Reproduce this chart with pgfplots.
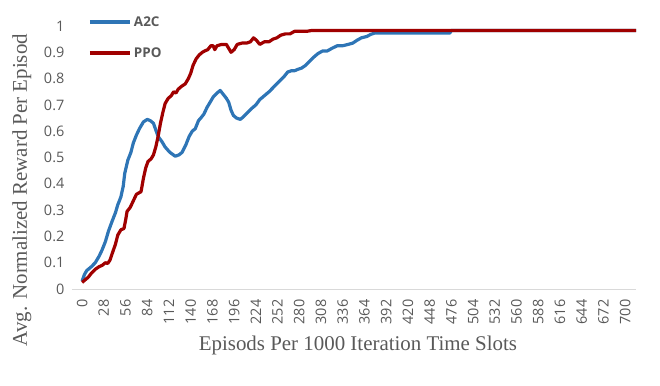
\documentclass[border=0pt]{standalone}
\usepackage{fontspec}
\setmainfont{Open Sans}
\newfontfamily\serif{Liberation Serif}
\usepackage{pgfplots}
\pgfplotsset{compat=1.18}
\definecolor{a2cblue}{HTML}{2E75B6}
\definecolor{ppored}{HTML}{A00000}
\definecolor{txtgray}{HTML}{595959}
\definecolor{axgray}{HTML}{D9D9D9}

\begin{document}
\begin{tikzpicture}
\begin{axis}[
  scale only axis,
  width=564bp, height=263bp,
  xmin=-13, xmax=714, ymin=0, ymax=1,
  axis x line=bottom, axis y line=left,
  x axis line style={draw=axgray, line width=0.8bp, -},
  y axis line style={draw=none},
  tick style={draw=none},
  xtick={0,28,...,700},
  ytick={0,0.1,...,1.01},
  /pgf/number format/assume math mode=true,
  yticklabel style={/pgf/number format/fixed, /pgf/number format/precision=1,
    font=\fontsize{14.5}{16}\selectfont, text=txtgray, xshift=-2bp},
  xticklabel style={rotate=90, anchor=east, font=\fontsize{14.5}{16}\selectfont,
    text=txtgray, xshift=-5bp},
  xlabel={Episods Per 1000 Iteration Time Slots},
  ylabel={Avg. Normalized Reward Per Episod},
  xlabel style={at={(axis description cs:0.507,-0.213)}, anchor=center,
    font=\serif\fontsize{21}{23}\selectfont, text=txtgray},
  ylabel style={at={(axis description cs:-0.089,0.376)}, anchor=center,
    font=\serif\fontsize{21}{23}\selectfont, text=txtgray},
  legend style={at={(axis description cs:0.028,1.045)}, anchor=north west,
    draw=none, fill=none, inner sep=0pt, row sep=16bp,
    font=\bfseries\fontsize{13.5}{15}\selectfont, text=txtgray},
  legend cell align=left,
  legend image code/.code={\draw[#1, line width=4bp] (0bp,0bp) -- (40bp,0bp);},
  every axis plot/.append style={line width=3.2bp, line join=round},
]
\addplot[a2cblue, mark=none] coordinates {
 (0,0.03)(3,0.055)(6,0.07)(12,0.085)(17,0.10)(22,0.125)(26,0.15)(30,0.18)(34,0.22)
 (39,0.26)(43,0.29)(46,0.32)(50,0.35)(53,0.39)(55,0.44)(59,0.49)(63,0.52)(66,0.555)
 (70,0.585)(74,0.61)(79,0.635)(84,0.645)(88,0.64)(92,0.63)(95,0.605)(98,0.58)(103,0.56)
 (107,0.54)(113,0.52)(120,0.505)(125,0.51)(129,0.52)(134,0.55)(138,0.58)(142,0.60)
 (146,0.61)(150,0.64)(153,0.65)(157,0.665)(161,0.69)(165,0.71)(169,0.73)(174,0.745)
 (178,0.755)(182,0.74)(186,0.725)(189,0.71)(192,0.68)(195,0.66)(199,0.65)(204,0.645)
 (208,0.655)(213,0.67)(218,0.685)(224,0.70)(229,0.72)(235,0.735)(241,0.75)(246,0.765)
 (251,0.78)(256,0.795)(261,0.81)(265,0.825)(270,0.83)(274,0.83)(278,0.835)(283,0.84)
 (288,0.85)(293,0.865)(298,0.88)(304,0.895)(310,0.905)(316,0.905)(322,0.915)(329,0.925)
 (336,0.925)(343,0.93)(349,0.935)(354,0.945)(360,0.955)(367,0.96)(372,0.968)(377,0.973)
 (474,0.973)(476,0.983)(714,0.983)};
\addlegendentry{A2C}
\addplot[ppored, mark=none] coordinates {
 (0,0.025)(4,0.035)(8,0.045)(12,0.06)(17,0.075)(22,0.085)(26,0.09)(30,0.10)(33,0.097)
 (36,0.11)(40,0.145)(43,0.17)(46,0.205)(50,0.225)(54,0.23)(56,0.26)(58,0.295)(62,0.31)
 (66,0.335)(70,0.36)(73,0.365)(76,0.37)(79,0.42)(82,0.46)(85,0.485)(89,0.495)(92,0.51)
 (95,0.54)(98,0.58)(101,0.63)(104,0.67)(107,0.705)(111,0.725)(115,0.735)(118,0.75)
 (121,0.745)(124,0.76)(128,0.77)(133,0.78)(137,0.80)(140,0.82)(143,0.85)(147,0.875)
 (151,0.89)(155,0.90)(158,0.905)(162,0.91)(166,0.925)(169,0.925)(171,0.91)(174,0.925)
 (180,0.93)(186,0.93)(189,0.915)(192,0.90)(196,0.91)(200,0.93)(206,0.935)(212,0.935)
 (217,0.94)(221,0.955)(225,0.945)(229,0.93)(235,0.94)(241,0.94)(246,0.95)(251,0.955)
 (256,0.965)(262,0.97)(268,0.97)(274,0.98)(282,0.98)(290,0.98)(296,0.983)(714,0.983)};
\addlegendentry{PPO}
\end{axis}
\pgfresetboundingbox
\path[use as bounding box] ([xshift=-72bp,yshift=-97bp]current axis.south west)
  rectangle ([xshift=24bp,yshift=26bp]current axis.north east);
\end{tikzpicture}
\end{document}
